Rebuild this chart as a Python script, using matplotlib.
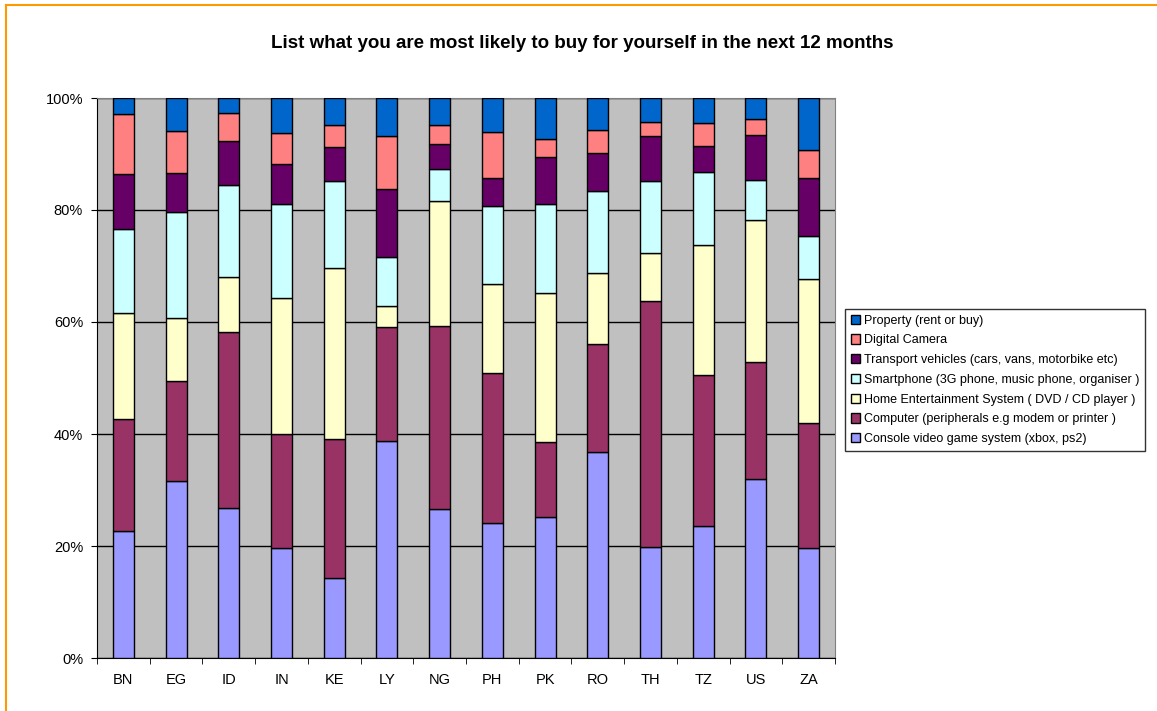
import matplotlib

matplotlib.use("Agg")
import matplotlib.pyplot as plt
import numpy as np
from matplotlib.lines import Line2D
from matplotlib.patches import Patch

plt.rcParams["font.family"] = ["Liberation Sans", "DejaVu Sans"]

countries = ["BN", "EG", "ID", "IN", "KE", "LY", "NG", "PH", "PK", "RO", "TH", "TZ", "US", "ZA"]

# share of respondents (%) per category, bottom to top of each stack
console = [22.7, 31.6, 26.8, 19.6, 14.3, 38.8, 26.6, 24.1, 25.2, 36.8, 19.8, 23.5, 32.0, 19.6]
computer = [20.0, 17.9, 31.4, 20.4, 24.8, 20.3, 32.7, 26.8, 13.3, 19.3, 44.0, 27.0, 20.9, 22.4]
home_ent = [18.9, 11.2, 9.8, 24.3, 30.5, 3.8, 22.3, 15.8, 26.6, 12.7, 8.6, 23.3, 25.4, 25.6]
smartphone = [15.0, 18.9, 16.5, 16.8, 15.6, 8.7, 5.7, 14.0, 16.0, 14.6, 12.8, 13.0, 7.1, 7.8]
transport = [9.8, 7.0, 7.8, 7.1, 6.0, 12.2, 4.5, 5.1, 8.4, 6.7, 8.1, 4.7, 8.0, 10.4]
camera = [10.7, 7.5, 5.0, 5.6, 4.0, 9.4, 3.4, 8.2, 3.1, 4.1, 2.4, 4.0, 2.8, 5.0]
property_ = [2.9, 5.9, 2.7, 6.2, 4.8, 6.8, 4.8, 6.0, 7.4, 5.8, 4.3, 4.5, 3.8, 9.2]

series = [
    ("Console video game system (xbox, ps2)", console, "#9999FF"),
    ("Computer (peripherals e.g modem or printer )", computer, "#993366"),
    ("Home Entertainment System ( DVD / CD player )", home_ent, "#FFFFCC"),
    ("Smartphone (3G phone, music phone, organiser )", smartphone, "#CCFFFF"),
    ("Transport vehicles (cars, vans, motorbike etc)", transport, "#660066"),
    ("Digital Camera", camera, "#FF8080"),
    ("Property (rent or buy)", property_, "#0066CC"),
]

fig = plt.figure(figsize=(11.57, 7.11), dpi=100)
ax = fig.add_axes([97 / 1157, 53 / 711, 738 / 1157, 560 / 711])
ax.set_facecolor("#C0C0C0")

x = np.arange(len(countries))
bottom = np.zeros(len(countries))
for name, vals, col in series:
    v = np.array(vals)
    ax.bar(x, v, 0.4, bottom=bottom, color=col, edgecolor="black", linewidth=1.0, zorder=3)
    bottom += v

ax.set_xlim(-0.5, len(countries) - 0.5)
ax.set_ylim(0, 100)
ax.set_yticks(np.arange(0, 101, 20))
ax.set_yticklabels([f"{t}%" for t in range(0, 101, 20)], fontsize=10.5)
ax.yaxis.grid(True, color="black", linewidth=1.0, zorder=0)
ax.set_axisbelow(True)

ax.set_xticks(x)
ax.set_xticklabels(countries, fontsize=10.5)
ax.tick_params(axis="x", length=0, pad=11)
ax.set_xticks(np.arange(-0.5, len(countries)), minor=True)
ax.tick_params(axis="x", which="minor", length=4, direction="out", color="black")
ax.tick_params(axis="y", length=4, direction="out", pad=6)

for side in ("top", "right"):
    ax.spines[side].set_color("#808080")
for side in ("left", "bottom"):
    ax.spines[side].set_color("black")

fig.text(582 / 1157, 1 - 43 / 711, "List what you are most likely to buy for yourself in the next 12 months",
         ha="center", va="center", fontsize=13.5, fontweight="bold")

handles = [Patch(facecolor=col, edgecolor="black", linewidth=1.0, label=name) for name, _, col in reversed(series)]
leg = fig.legend(handles=handles, loc="upper left", bbox_to_anchor=(845 / 1157, 1 - 309 / 711),
                 fontsize=9, frameon=True, fancybox=False, handlelength=0.75, handleheight=0.75,
                 handletextpad=0.3, labelspacing=0.62, borderpad=0.45, borderaxespad=0)
leg.get_frame().set_edgecolor("black")
leg.get_frame().set_linewidth(1.0)

# orange outer frame (top and left edge only)
fig.add_artist(Line2D([6 / 1157, 6 / 1157], [0, 1 - 5 / 711], color="#FF9900", linewidth=1.5))
fig.add_artist(Line2D([6 / 1157, 1], [1 - 5 / 711, 1 - 5 / 711], color="#FF9900", linewidth=1.5))

fig.savefig("out.png", dpi=100)
